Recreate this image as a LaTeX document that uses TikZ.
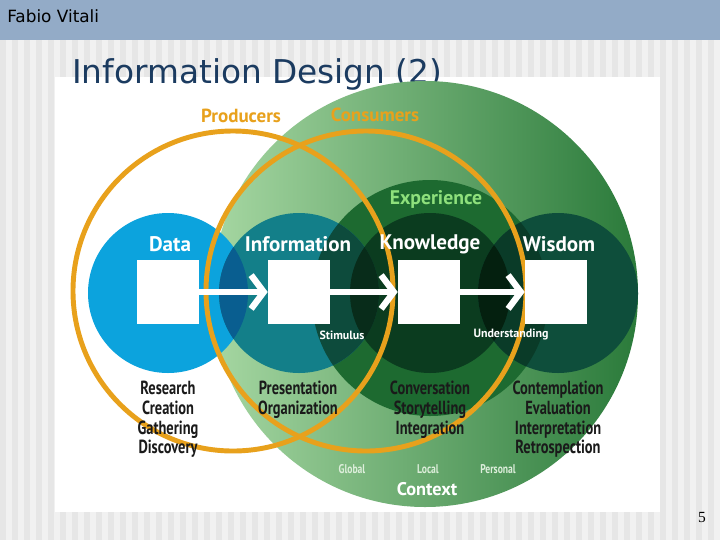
\documentclass[tikz,border=0pt]{standalone}
\usepackage{fontspec}
\setmainfont{PT Sans}
\newfontfamily\slidefont{DejaVu Sans}
\newfontfamily\narrowfont[FakeStretch=0.76]{PT Sans}
\newfontfamily\pagefont{Liberation Serif}
\usetikzlibrary{arrows.meta}
\definecolor{barblue}{HTML}{93ABC7}
\definecolor{stripe}{HTML}{E6E6E6}
\definecolor{paper}{HTML}{F1F1F1}
\definecolor{titleblue}{HTML}{1B3B60}
\definecolor{ringorange}{HTML}{E8A11C}
\definecolor{ctxlight}{HTML}{A6D7A2}
\definecolor{ctxmid}{HTML}{66B06F}
\definecolor{ctxdark}{HTML}{2A7A3A}
\definecolor{expgreen}{HTML}{1D6A30}
\definecolor{datablue}{HTML}{0CA3DD}
\definecolor{infoteal}{HTML}{137F89}
\definecolor{knowgreen}{HTML}{0B3C1F}
\definecolor{wisgreen}{HTML}{0E4E3B}
\definecolor{diblue}{HTML}{095E90}
\definecolor{iegreen}{HTML}{0D4B3C}
\definecolor{ikgreen}{HTML}{082C1A}
\definecolor{wegreen}{HTML}{0A3B28}
\definecolor{kwgreen}{HTML}{04200F}
\definecolor{expword}{HTML}{8EE07C}
\definecolor{listtext}{HTML}{1A1A1A}
\definecolor{scopetext}{HTML}{DDEEDB}

\begin{document}
\begin{tikzpicture}[x=0.025cm,y=-0.025cm,
    ring/.style={draw=ringorange,line width=3.5pt},
    stage/.style={text=white,inner sep=0,font=\bfseries\fontsize{15}{18}\selectfont},
    sq/.style={fill=white,minimum width=1.55cm,minimum height=1.62cm,inner sep=0},
    flow/.style={draw=white,line width=4.5pt,-{Straight Barb[length=9pt,width=24pt]}},
    acts/.style={anchor=north,align=center,inner sep=0,text=listtext,font=\narrowfont\bfseries\fontsize{13.5}{14}\selectfont},
    tiny/.style={inner sep=0,font=\bfseries\fontsize{8.5}{9}\selectfont},
    scopeword/.style={inner sep=0,text=scopetext,font=\narrowfont\bfseries\fontsize{9}{10}\selectfont},
    side/.style={text=ringorange,inner sep=0,font=\bfseries\fontsize{13.5}{16}\selectfont}]
  \useasboundingbox (0,0) rectangle (720,540);
  \fill[paper] (0,0) rectangle (720,540);
  \foreach \x in {0,12,...,708}
    \fill[stripe] (\x,40) rectangle ++(6,500);
  \fill[barblue] (0,0) rectangle (720,40);
  \fill[white] (55,77) rectangle (660,512);
  \node[anchor=west,inner sep=0,font=\slidefont\fontsize{12}{14}\selectfont] (author) at (7,16) {Fabio Vitali};
  \node[anchor=west,inner sep=0,text=titleblue,font=\slidefont\fontsize{23.3}{28}\selectfont] (title) at (72,74) {Information Design (2)};
  \node[inner sep=0,font=\pagefont\fontsize{11}{13}\selectfont] (page) at (702,517) {5};
  % circles
  \coordinate (cC) at (425,294);
  \coordinate (cE) at (430,298);
  \coordinate (cD) at (168,293);
  \coordinate (cI) at (299,293);
  \coordinate (cK) at (430,293);
  \coordinate (cW) at (558,293);
  \shade[left color=ctxlight,middle color=ctxmid,right color=ctxdark] (cC) circle (213);
  \fill[expgreen] (cE) circle (118);
  \fill[datablue] (cD) circle (80);
  \fill[infoteal] (cI) circle (80);
  \fill[knowgreen] (cK) circle (80);
  \fill[wisgreen] (cW) circle (80);
  \begin{scope}
    \clip (cI) circle (80);
    \fill[diblue] (cD) circle (80);
    \fill[iegreen] (cE) circle (118);
    \fill[ikgreen] (cK) circle (80);
  \end{scope}
  \begin{scope}
    \clip (cW) circle (80);
    \fill[wegreen] (cE) circle (118);
    \fill[kwgreen] (cK) circle (80);
  \end{scope}
  \draw[ring] (233,291) circle (160);
  \draw[ring] (366,291) circle (160);
  % labels
  \node[side] (prod) at (241,116) {Producers};
  \node[side] (cons) at (375,115) {Consumers};
  \node[inner sep=0,text=expword,font=\bfseries\fontsize{14}{16}\selectfont] (exp) at (436,199) {Experience};
  \node[stage] (lD) at (170,244) {Data};
  \node[stage] (lI) at (298,244) {Information};
  \node[stage] (lK) at (430,244) {Knowledge};
  \node[stage] (lW) at (559,244) {Wisdom};
  \node[sq] (D) at (168,292) {};
  \node[sq] (I) at (299,292) {};
  \node[sq] (K) at (429,292) {};
  \node[sq] (W) at (556,292) {};
  \draw[flow] (D) -- (I);
  \draw[flow] (I) -- (K);
  \draw[flow] (K) -- (W);
  \node[tiny,text=white] (stim) at (342,335) {Stimulus};
  \node[tiny,text=white] (und) at (511,335) {Understanding};
  \node[acts] (aD) at (168,381) {Research\\Creation\\Gathering\\Discovery};
  \node[acts] (aI) at (298,381) {Presentation\\Organization};
  \node[acts] (aK) at (430,381) {Conversation\\Storytelling\\Integration};
  \node[acts] (aW) at (558,381) {Contemplation\\Evaluation\\Interpretation\\Retrospection};
  \node[scopeword] (glob) at (352,469) {Global};
  \node[scopeword] (loc) at (428,469) {Local};
  \node[scopeword] (pers) at (498,469) {Personal};
  \node[inner sep=0,text=white,font=\bfseries\fontsize{13}{15}\selectfont] (ctx) at (427,489) {Context};
\end{tikzpicture}
\end{document}
